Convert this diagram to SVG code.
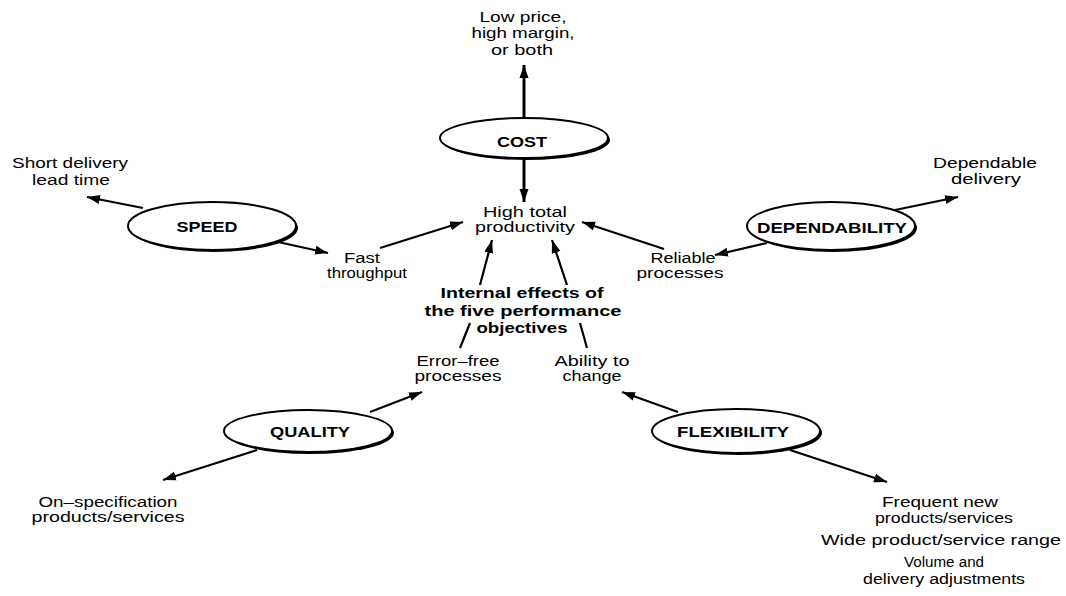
<svg xmlns="http://www.w3.org/2000/svg" width="1066" height="596" viewBox="0 0 1066 596">
<style>
.t{font-family:"Liberation Sans",Arial,sans-serif;font-size:15.5px;fill:#000;text-anchor:middle}
.b{font-family:"Liberation Sans",Arial,sans-serif;font-size:15.5px;font-weight:bold;fill:#000;text-anchor:middle}
.c{stroke:#000;stroke-width:2.2;fill:none;marker-end:url(#ah)}
.s{stroke:#000;stroke-width:2.2;fill:none}
.sh{fill:#000}
.el{fill:#fff;stroke:#000;stroke-width:2}
</style>
<defs>
<marker id="ah" markerUnits="userSpaceOnUse" markerWidth="14" markerHeight="10" refX="13" refY="5" orient="auto">
<path d="M0,0.5 L13,5 L0,9.5 z" fill="#000"/>
</marker>
</defs>
<rect width="1066" height="596" fill="#fff"/>
<g id="connectors">
<line class="c" x1="524" y1="117" x2="524" y2="65" style="stroke-width:3"/>
<line class="c" x1="524" y1="159" x2="524" y2="202" style="stroke-width:3"/>
<line class="c" x1="143" y1="208" x2="87" y2="197"/>
<line class="c" x1="278" y1="242" x2="328" y2="253"/>
<line class="c" x1="380" y1="248" x2="463" y2="222"/>
<line class="c" x1="895" y1="210" x2="958" y2="197"/>
<line class="c" x1="767" y1="243" x2="715" y2="255"/>
<line class="c" x1="664" y1="249" x2="582" y2="222"/>
<line class="c" x1="480" y1="285" x2="492" y2="240"/>
<line class="s" x1="460" y1="348" x2="470" y2="323"/>
<line class="c" x1="567" y1="285" x2="552" y2="240"/>
<line class="s" x1="580" y1="323" x2="587" y2="348"/>
<line class="c" x1="370" y1="412" x2="422" y2="392"/>
<line class="c" x1="257" y1="450" x2="163" y2="480"/>
<line class="c" x1="678" y1="412" x2="622" y2="392"/>
<line class="c" x1="790" y1="450" x2="887" y2="482"/>
</g>
<g id="cost">
<ellipse class="sh" cx="526" cy="140" rx="84" ry="20"/>
<ellipse class="el" cx="524" cy="138" rx="84" ry="20"/>
<text class="b" x="522" y="147" textLength="50" lengthAdjust="spacingAndGlyphs">COST</text>
</g>
<g id="speed">
<ellipse class="sh" cx="214" cy="228" rx="84" ry="24"/>
<ellipse class="el" cx="212" cy="226" rx="84" ry="24"/>
<text class="b" x="207" y="232" textLength="61" lengthAdjust="spacingAndGlyphs">SPEED</text>
</g>
<g id="dependability">
<ellipse class="sh" cx="833" cy="228" rx="84" ry="24"/>
<ellipse class="el" cx="831" cy="226" rx="84" ry="24"/>
<text class="b" x="832" y="233" textLength="150" lengthAdjust="spacingAndGlyphs">DEPENDABILITY</text>
</g>
<g id="quality">
<ellipse class="sh" cx="310" cy="433" rx="84" ry="21"/>
<ellipse class="el" cx="308" cy="431" rx="84" ry="21"/>
<text class="b" x="310" y="437" textLength="80" lengthAdjust="spacingAndGlyphs">QUALITY</text>
</g>
<g id="flexibility">
<ellipse class="sh" cx="738" cy="433" rx="84" ry="22"/>
<ellipse class="el" cx="736" cy="431" rx="84" ry="22"/>
<text class="b" x="733" y="437" textLength="112" lengthAdjust="spacingAndGlyphs">FLEXIBILITY</text>
</g>
<g id="cost-external">
<text class="t" x="523" y="22" textLength="87" lengthAdjust="spacingAndGlyphs">Low price,</text>
<text class="t" x="523" y="38" textLength="103" lengthAdjust="spacingAndGlyphs">high margin,</text>
<text class="t" x="522" y="55" textLength="62" lengthAdjust="spacingAndGlyphs">or both</text>
</g>
<g id="high-productivity">
<text class="t" x="525" y="217" textLength="84" lengthAdjust="spacingAndGlyphs">High total</text>
<text class="t" x="525" y="232" textLength="100" lengthAdjust="spacingAndGlyphs">productivity</text>
</g>
<g id="speed-external">
<text class="t" x="70" y="168" textLength="116" lengthAdjust="spacingAndGlyphs">Short delivery</text>
<text class="t" x="71" y="185" textLength="78" lengthAdjust="spacingAndGlyphs">lead time</text>
</g>
<g id="fast-throughput">
<text class="t" x="362" y="263" textLength="36" lengthAdjust="spacingAndGlyphs">Fast</text>
<text class="t" x="367" y="278" textLength="80" lengthAdjust="spacingAndGlyphs">throughput</text>
</g>
<g id="dependability-external">
<text class="t" x="985" y="168" textLength="104" lengthAdjust="spacingAndGlyphs">Dependable</text>
<text class="t" x="986" y="184" textLength="70" lengthAdjust="spacingAndGlyphs">delivery</text>
</g>
<g id="reliable-processes">
<text class="t" x="683" y="263" textLength="65" lengthAdjust="spacingAndGlyphs">Reliable</text>
<text class="t" x="680" y="278" textLength="87" lengthAdjust="spacingAndGlyphs">processes</text>
</g>
<g id="internal-effects">
<text class="b" x="522" y="298" textLength="163" lengthAdjust="spacingAndGlyphs">Internal effects of</text>
<text class="b" x="523" y="316" textLength="197" lengthAdjust="spacingAndGlyphs">the five performance</text>
<text class="b" x="522" y="333" textLength="91" lengthAdjust="spacingAndGlyphs">objectives</text>
</g>
<g id="error-free">
<text class="t" x="458" y="366" textLength="83" lengthAdjust="spacingAndGlyphs">Error–free</text>
<text class="t" x="458" y="381" textLength="87" lengthAdjust="spacingAndGlyphs">processes</text>
</g>
<g id="ability-to-change">
<text class="t" x="592" y="366" textLength="75" lengthAdjust="spacingAndGlyphs">Ability to</text>
<text class="t" x="592" y="381" textLength="59" lengthAdjust="spacingAndGlyphs">change</text>
</g>
<g id="quality-external">
<text class="t" x="108" y="507" textLength="139" lengthAdjust="spacingAndGlyphs">On–specification</text>
<text class="t" x="108" y="522" textLength="153" lengthAdjust="spacingAndGlyphs">products/services</text>
</g>
<g id="flexibility-external">
<text class="t" x="940" y="507" textLength="116" lengthAdjust="spacingAndGlyphs">Frequent new</text>
<text class="t" x="944" y="523" textLength="138" lengthAdjust="spacingAndGlyphs">products/services</text>
<text class="t" x="941" y="545" textLength="240" lengthAdjust="spacingAndGlyphs">Wide product/service range</text>
<text class="t" x="944" y="567" textLength="80" lengthAdjust="spacingAndGlyphs">Volume and</text>
<text class="t" x="944" y="584" textLength="162" lengthAdjust="spacingAndGlyphs">delivery adjustments</text>
</g>
</svg>
